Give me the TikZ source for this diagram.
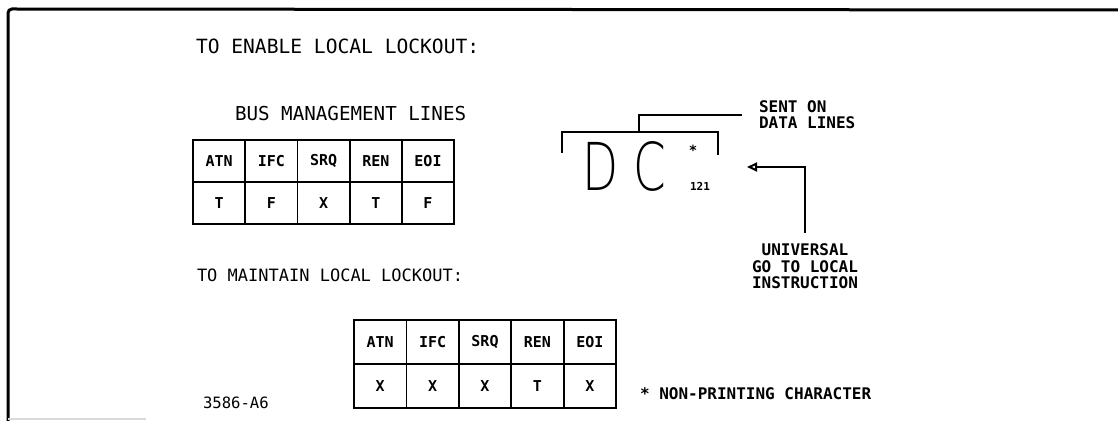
\documentclass[tikz,border=0pt]{standalone}
\usepackage{fontspec}
\setmainfont{DejaVu Sans Mono}
\newfontfamily\dcfont{DejaVuSans-ExtraLight.ttf}
\usetikzlibrary{arrows.meta, calc, positioning}

\begin{document}
\begin{tikzpicture}[x=0.5pt, y=-0.5pt, line width=1pt,
  cell/.style={draw, line width=0.9pt, minimum width=26.1pt, minimum height=21pt,
    inner sep=0pt, font=\fontsize{7.5}{8}\selectfont\bfseries},
  lbl/.style={inner sep=0pt, font=\fontsize{8}{7.75}\selectfont\bfseries},
  head/.style={anchor=base west, inner sep=0pt}]
\useasboundingbox (0,0) rectangle (1118,421);
\draw[line width=1.5pt, rounded corners=2pt] (8,421) -- (8,9) -- (1118,10);
\draw[gray!30, line width=1pt] (8,419) -- (146,419);

\node[head, font=\fontsize{9.8}{10}\selectfont] (enable) at (195,54) {TO ENABLE LOCAL LOCKOUT:};
\node[head, font=\fontsize{9.6}{10}\selectfont] (bus) at (234,121) {BUS MANAGEMENT LINES};
\node[head, font=\fontsize{8.5}{10}\selectfont] (maintain) at (196,282) {TO MAINTAIN LOCAL LOCKOUT:};

\foreach \n/\v [count=\i] in {ATN/T,IFC/F,SRQ/X,REN/T,EOI/F}{
  \node[cell] (ea\i) at (167+52.2*\i,161) {\n};
  \node[cell] (eb\i) at (167+52.2*\i,203) {\v};
}
\foreach \n/\v [count=\i] in {ATN/X,IFC/X,SRQ/X,REN/T,EOI/X}{
  \node[cell, minimum width=26.2pt, minimum height=22pt] (ma\i) at (327.8+52.4*\i,342) {\n};
  \node[cell, minimum width=26.2pt, minimum height=22pt] (mb\i) at (327.8+52.4*\i,386) {\v};
}

\node[inner sep=0pt] (dc) at (624,166)
  {\scalebox{0.71}[1]{\dcfont\fontsize{33}{33}\selectfont D\hspace{10.5pt}C}};
\node[inner sep=0pt, font=\fontsize{7}{7}\selectfont\bfseries] (star) at (693,150) {*};
\node[inner sep=0pt, font=\fontsize{5.5}{6}\selectfont\bfseries] (code) at (700,186) {121};
\draw (562,153) -- (562,132) -- (718,132) -- (718,155);
\coordinate (brk) at (639,132);

\node[lbl, anchor=north west, align=left] (sent) at (758,100) {SENT ON\\DATA LINES};
\draw (brk) |- ([xshift=-8pt]sent.west);

\node[lbl, anchor=north, align=center, font=\fontsize{8}{8.25}\selectfont\bfseries] (univ) at (805,243)
  {UNIVERSAL\\GO TO LOCAL\\INSTRUCTION};
\coordinate (gtl) at (747,167);
\draw[-{Triangle[open, length=5pt, width=4.5pt]}] ([yshift=5pt]univ.north) |- (gtl);

\node[head, font=\fontsize{7.8}{8}\selectfont] (fig) at (202,409) {3586-A6};
\node[lbl, anchor=base west] (note) at (639,400) {* NON-PRINTING CHARACTER};
\end{tikzpicture}
\end{document}
